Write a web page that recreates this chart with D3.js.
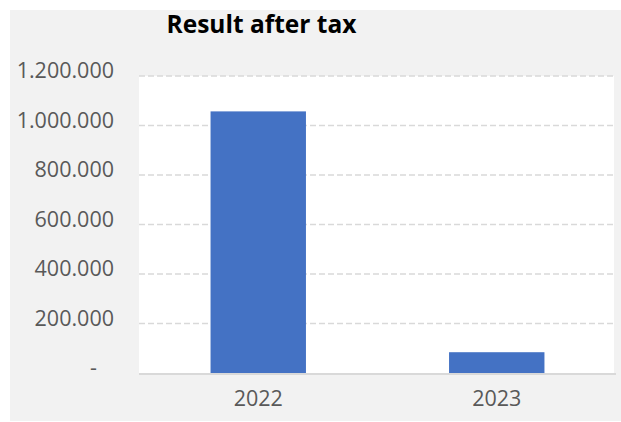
<!DOCTYPE html>
<html>
<head>
<meta charset="utf-8">
<script src="https://cdn.jsdelivr.net/npm/d3@7"></script>
<style>
  html, body { margin: 0; padding: 0; background: #ffffff; }
  svg { display: block; }
</style>
</head>
<body>
<svg id="chart" width="621" height="422"></svg>
<script>
// Result after tax per year
const years = ["2022", "2023"];
const resultAfterTax = [1057000, 84000];
const yTicks = [0, 200000, 400000, 600000, 800000, 1000000, 1200000];
const chartTitle = "Result after tax";

const svg = d3.select("#chart");
const W = 621, H = 422;
const margin = { left: 139, right: 5, top: 76, bottom: 48 };
const plotW = W - margin.left - margin.right;
const plotH = H - margin.top - margin.bottom - 1;
const font = "'Open Sans', sans-serif";

// chart background
svg.append("rect").attr("x", 10).attr("y", 10)
  .attr("width", W - 10).attr("height", H - 11)
  .attr("fill", "#f2f2f2");

const g = svg.append("g").attr("transform", `translate(${margin.left},${margin.top})`);

// plot area
g.append("rect").attr("width", plotW - 2).attr("height", plotH)
  .attr("fill", "#ffffff");

const x = d3.scaleBand().domain(years).range([0, plotW])
  .paddingInner(0.6).paddingOuter(0.3);
const y = d3.scaleLinear().domain([0, 1200000]).range([plotH, 0]);

// dashed gridlines
g.append("g")
  .selectAll("line").data(yTicks.filter(d => d > 0)).join("line")
  .attr("x1", 0).attr("x2", plotW)
  .attr("y1", d => y(d)).attr("y2", d => y(d))
  .attr("stroke", "#d9d9d9").attr("stroke-width", 1.5)
  .attr("stroke-dasharray", "6,3");

// bars
g.append("g").selectAll("rect").data(years).join("rect")
  .attr("x", d => x(d))
  .attr("width", x.bandwidth())
  .attr("y", (d, i) => y(resultAfterTax[i]))
  .attr("height", (d, i) => plotH - y(resultAfterTax[i]))
  .attr("fill", "#4472c4");

// baseline
g.append("line").attr("x1", 0).attr("x2", plotW)
  .attr("y1", plotH + 1).attr("y2", plotH + 1)
  .attr("stroke", "#d9d9d9").attr("stroke-width", 2);

// y axis
const fmt = v => v === 0 ? "-" : d3.format(",")(v).replace(/,/g, ".");
const yAxis = g.append("g")
  .call(d3.axisLeft(y).tickValues(yTicks).tickFormat(fmt).tickSize(0).tickPadding(25));
yAxis.select(".domain").remove();
yAxis.selectAll("text")
  .attr("font-family", font).attr("font-size", 21.5).attr("fill", "#595959")
  .attr("dy", "0.08em")
  .attr("dx", d => d === 0 ? -17 : 0);

// x axis
const xAxis = g.append("g").attr("transform", `translate(0,${plotH})`)
  .call(d3.axisBottom(x).tickSize(0).tickPadding(18));
xAxis.select(".domain").remove();
xAxis.selectAll("text")
  .attr("font-family", font).attr("font-size", 21.5).attr("fill", "#595959");

// title
svg.append("text").attr("x", 261.5).attr("y", 33)
  .attr("text-anchor", "middle")
  .attr("font-family", font).attr("font-weight", "bold")
  .attr("font-size", 24.5).attr("fill", "#000000")
  .text(chartTitle);
</script>
</body>
</html>
